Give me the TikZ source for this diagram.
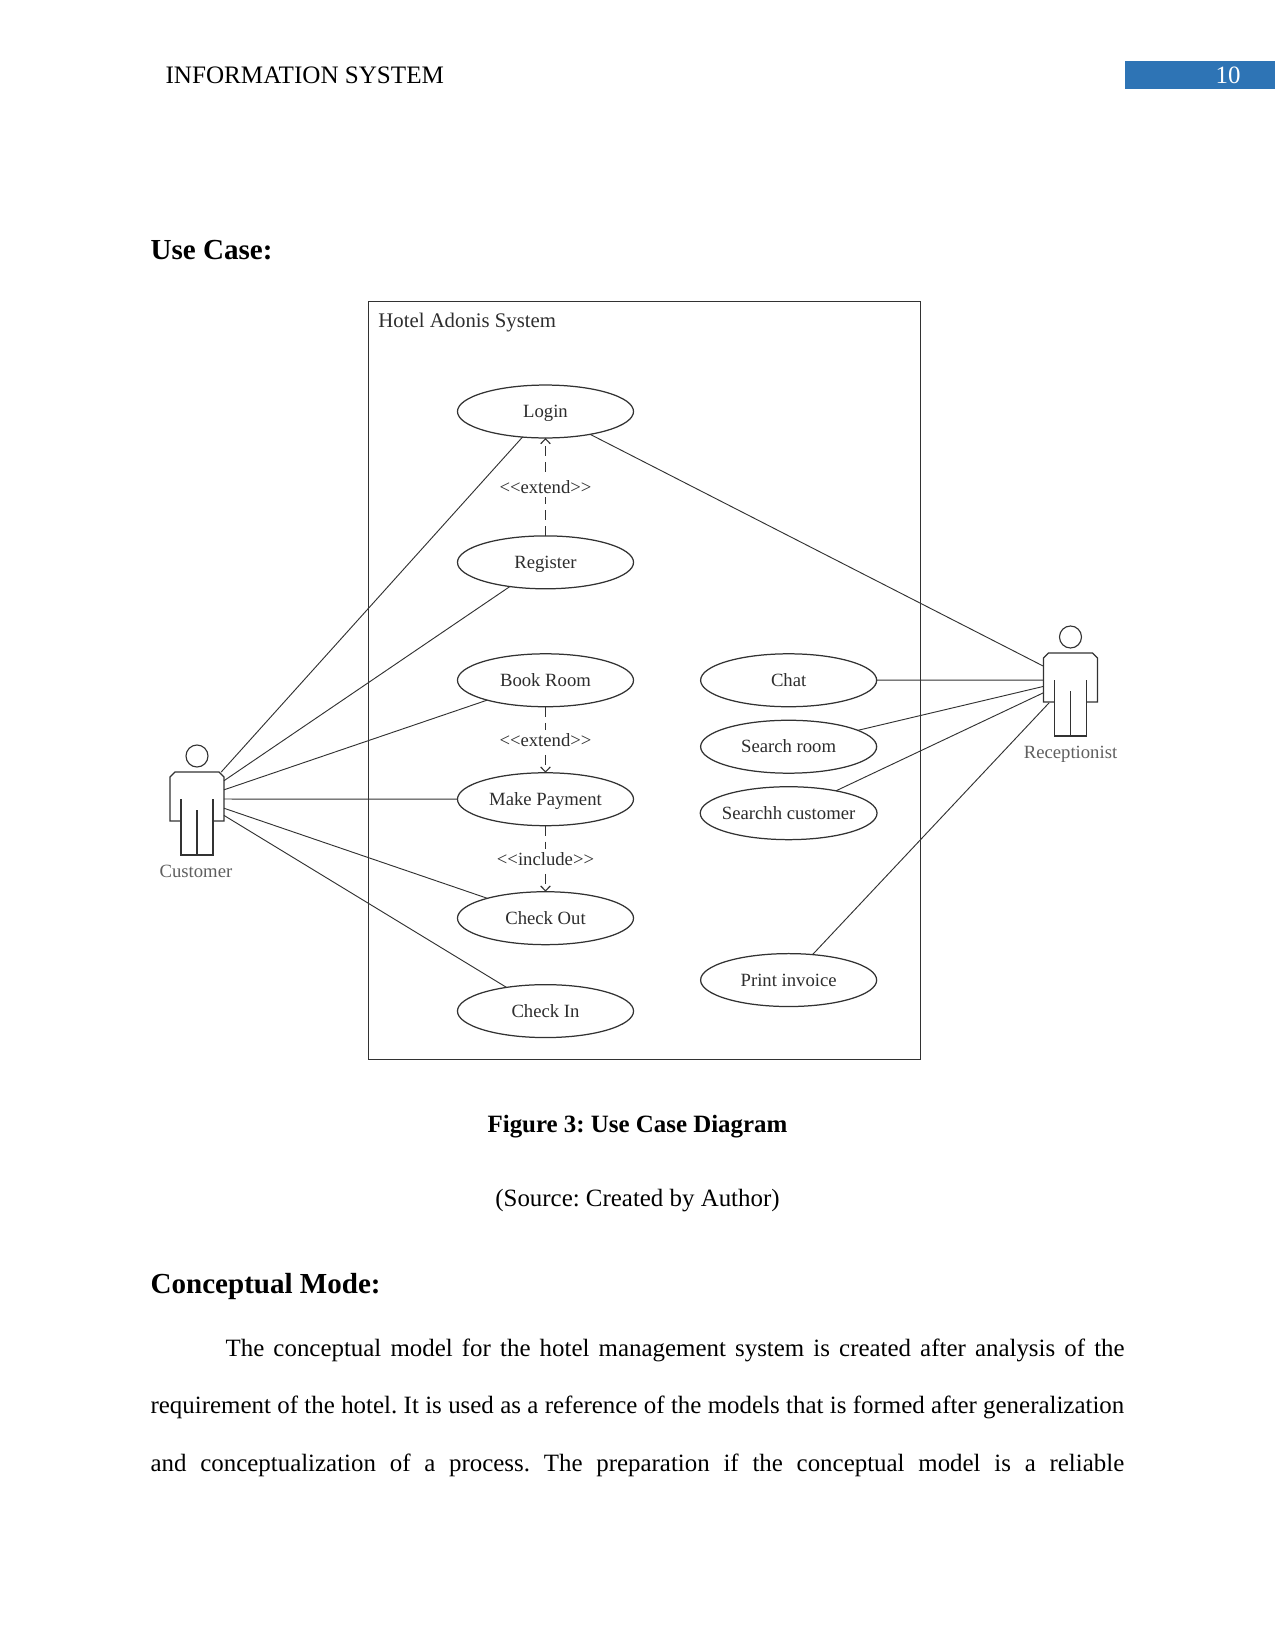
\documentclass[tikz,border=0pt]{standalone}
\usepackage{fontspec}
\setmainfont{Liberation Serif}
\usepackage{xcolor}
\definecolor{barblue}{RGB}{46,116,181}
\definecolor{inkline}{RGB}{50,50,50}
\definecolor{inktext}{RGB}{45,45,45}
\definecolor{actortext}{RGB}{95,95,95}
\usetikzlibrary{arrows.meta,positioning,shapes.geometric}
\AtBeginDocument{\frenchspacing}
\tikzset{
    pics/actorfig/.style={code={
        \draw[actorline] (0,-43) circle (11);
        \draw[actorline] (-16,0) -- (-16,56) -- (16,56) -- (16,0);
        \draw[actorline] (0,11) -- (0,56);
        \draw[actorline] (-16,22) -- (-27,22) -- (-27,-22) -- (-22,-27) -- (22,-27) -- (27,-22) -- (27,22) -- (16,22);
    }}
}
\begin{document}
\begin{tikzpicture}[x=0.48bp, y=-0.48bp, >=Stealth, semithick]
    \tikzstyle{usecase}=[ellipse, draw=inkline, line width=0.6pt, inner sep=-2pt, outer sep=0pt, minimum width=84.5bp, minimum height=25.4bp, text=inktext, text height=7pt, text depth=1.2pt, font=\fontsize{9}{11}\selectfont]
    \tikzstyle{actorbox}=[rectangle, inner sep=0pt, outer sep=0pt, minimum size=25.9bp]
    \tikzstyle{actorline}=[draw=inkline, line width=0.55pt]
    \tikzstyle{actorlabel}=[inner sep=0pt, text=actortext, font=\fontsize{9}{10}\selectfont]
    \tikzstyle{link}=[draw=inkline, line width=0.45pt]
    \tikzstyle{dep}=[draw=inkline, line width=0.55pt, dash pattern=on 4.8bp off 2.9bp, -{Straight Barb[length=2.4bp,width=4.6bp]}]
    \tikzstyle{deplabel}=[fill=white, inner sep=1.5pt, text=inktext, font=\fontsize{9}{10}\selectfont]
    \tikzstyle{pagetext}=[inner sep=0pt, anchor=base west, font=\fontsize{12}{14}\selectfont]
    \tikzstyle{pagehead}=[inner sep=0pt, anchor=base west, font=\fontsize{14}{16}\selectfont\bfseries]
    \tikzstyle{pagecentre}=[inner sep=0pt, anchor=base, font=\fontsize{12}{14}\selectfont]

    \useasboundingbox (0,0) rectangle (1275,1651);

    % Page header
    \node[fill=barblue, inner sep=0pt, minimum width=72bp, minimum height=13.7bp] (PageBar) at (1200,75) {};
    \node[pagecentre, text=white] (PageNum) at (1228,83) {10};
    \node[pagetext, font=\fontsize{12.1}{14}\selectfont] (Header) at (165,83) {INFORMATION SYSTEM};
    \node[pagehead] (UseCaseHead) at (150,259) {Use Case:};

    % System boundary
    \node[draw=inkline, line width=0.45pt, inner sep=0pt, outer sep=0pt, minimum width=264.8bp, minimum height=363.4bp] (System) at (644.5,680.5) {};
    \node[anchor=north west, inner sep=0pt, text=inktext, font=\fontsize{10}{12}\selectfont, xshift=4.4bp, yshift=-5.2bp] (SystemName) at (System.north west) {Hotel Adonis System};

    % Left column of use cases
    \node[usecase] (Login) at (545.5,411.5) {Login};
    \node[usecase, below=47bp of Login] (Register) {Register};
    \node[usecase, below=31.2bp of Register] (BookRoom) {Book Room};
    \node[usecase, below=31.7bp of BookRoom] (MakePayment) {Make Payment};
    \node[usecase, below=31.7bp of MakePayment] (CheckOut) {Check Out};
    \node[usecase, below=19.2bp of CheckOut] (CheckIn) {Check In};

    % Right column of use cases
    \node[usecase, right=32.2bp of BookRoom] (Chat) {Chat};
    \node[usecase, below=6.5bp of Chat] (SearchRoom) {Search room};
    \node[usecase, below=6.5bp of SearchRoom] (SearchCustomer) {Searchh customer};
    \node[usecase, below=54.7bp of SearchCustomer] (PrintInvoice) {Print invoice};

    % Actors
    \node[actorbox] (Customer) at (197,799) {};
    \node[actorbox] (Receptionist) at (1070.5,680) {};
    \pic at (Customer) {actorfig};
    \pic at (Receptionist) {actorfig};
    \node[actorlabel, below=18.4bp of Customer, xshift=-0.5bp] (CustomerName) {Customer};
    \node[actorlabel, below=18.4bp of Receptionist] (ReceptionistName) {Receptionist};

    % Associations
    \path[link] (Customer) edge (Login)
          (Customer) edge (Register)
          (Customer) edge (BookRoom)
          (Customer) edge (MakePayment)
          (Customer) edge (CheckOut)
          (Customer) edge (CheckIn)
          (Receptionist) edge (Login)
          (Receptionist) edge (Chat)
          (Receptionist) edge (SearchRoom)
          (Receptionist) edge (SearchCustomer)
          (Receptionist) edge [shorten <=-2.8bp] (PrintInvoice);

    % Dependencies
    \path (Register) edge [dep] node[deplabel] {<{}<extend>{}>} (Login)
          (BookRoom) edge [dep] node[deplabel] {<{}<extend>{}>} (MakePayment)
          (MakePayment) edge [dep] node[deplabel] {<{}<include>{}>} (CheckOut);

    % Page text below the figure
    \node[pagecentre, font=\fontsize{12}{14}\selectfont\bfseries] (FigCaption) at (637.5,1132) {Figure 3: Use Case Diagram};
    \node[pagecentre] (FigSource) at (637.5,1206) {(Source: Created by Author)};
    \node[pagehead] (ConceptHead) at (150,1293) {Conceptual Mode:};
    \node[pagetext] (LineA) at (225,1356) {\makebox[431.5bp][s]{The conceptual model for the hotel management system is created after analysis of the}};
    \node[pagetext] (LineB) at (150,1413) {\makebox[467.3bp][s]{requirement of the hotel. It is used as a reference of the models that is formed after generalization}};
    \node[pagetext] (LineC) at (150,1471) {\makebox[467.3bp][s]{and conceptualization of a process. The preparation if the conceptual model is a reliable}};
\end{tikzpicture}
\end{document}
